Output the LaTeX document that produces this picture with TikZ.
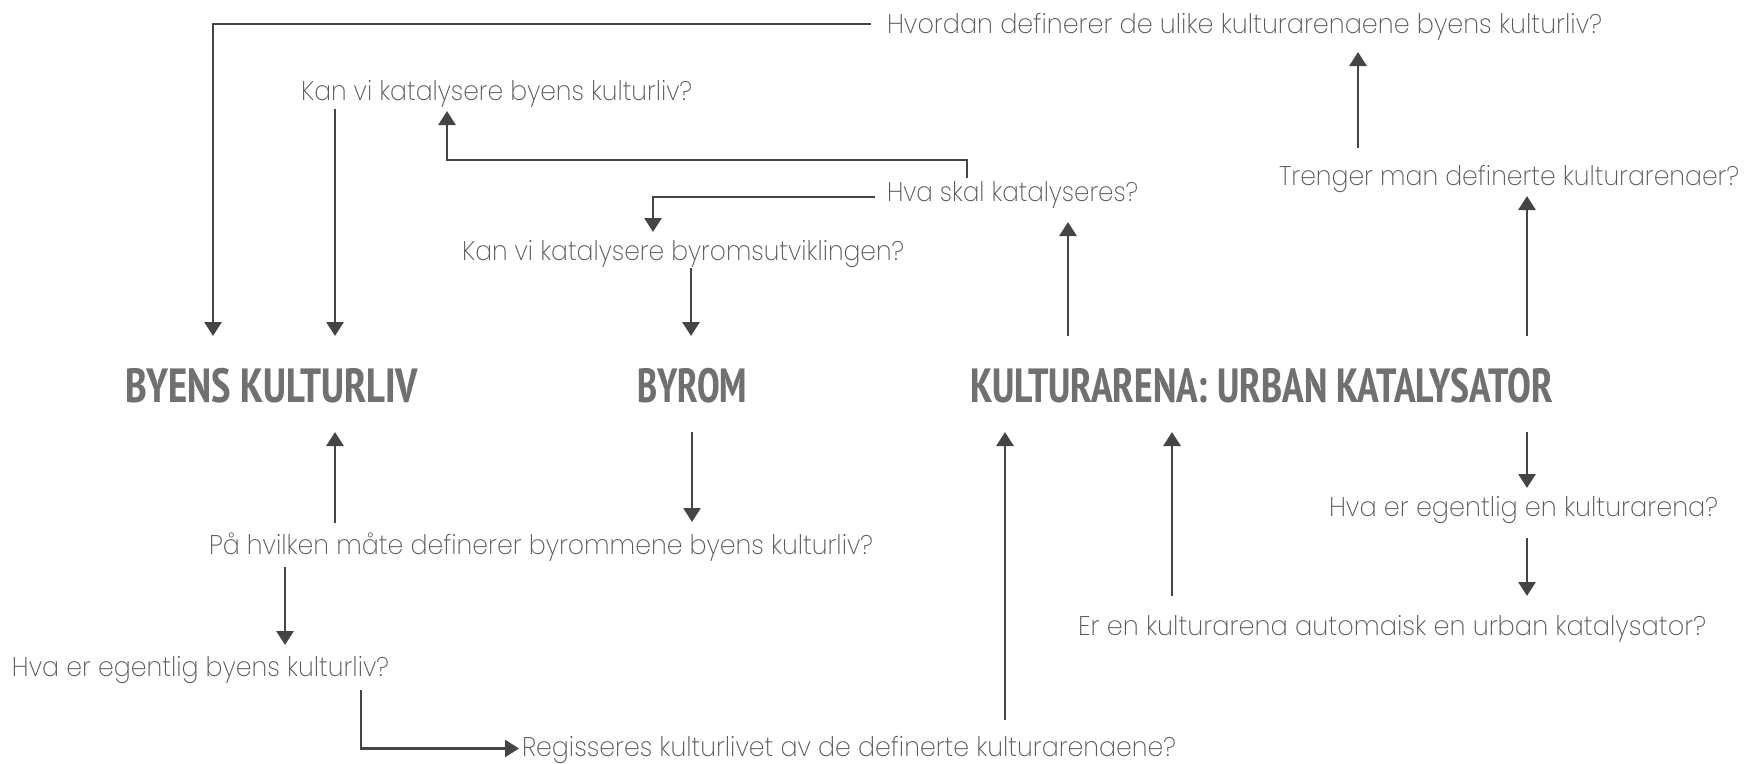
\documentclass[tikz,border=0pt]{standalone}
\usepackage{fontspec}
\usepackage{graphicx}
\usetikzlibrary{arrows.meta}
\IfFontExistsTF{Poppins ExtraLight}{\newfontfamily\qfont{Poppins ExtraLight}}{%
  \IfFontExistsTF{Poppins Light}{\newfontfamily\qfont{Poppins Light}}{%
    \IfFontExistsTF{Lato Light}{\newfontfamily\qfont{Lato Light}}{\newfontfamily\qfont{Poppins}}}}
\IfFontExistsTF{PT Sans Narrow Bold}{\newfontfamily\tfont{PT Sans Narrow Bold}}{\newfontfamily\tfont{DejaVu Sans Condensed Bold}}
\definecolor{linec}{HTML}{454545}
\definecolor{qcol}{HTML}{5A5A5A}
\definecolor{tcol}{HTML}{707070}
\newcommand{\fitw}[2]{\resizebox{#1pt}{\height}{#2}}
\tikzset{
  qn/.style={inner sep=0pt, outer sep=0pt, anchor=base west, text=qcol,
    font=\qfont\fontsize{27pt}{30pt}\selectfont, text height=19pt, text depth=0pt},
  tn/.style={inner sep=0pt, outer sep=0pt, anchor=base west, text=tcol,
    font=\tfont\fontsize{48pt}{50pt}\selectfont, text height=34pt, text depth=0pt},
  arr/.style={draw=linec, line width=2.8pt, -{Triangle[width=17pt,length=14pt]}}
}
\begin{document}
\begin{tikzpicture}[x=1pt,y=-1pt]
\useasboundingbox (0,0) rectangle (1745,763);
% questions
\node[qn] (q1) at (887,33.5) {\fitw{715}{Hvordan definerer de ulike kulturarenaene byens kulturliv?}};
\node[qn] (q2) at (301,100.5) {\fitw{391}{Kan vi katalysere byens kulturliv?}};
\node[qn] (q3) at (1279,185) {\fitw{460}{Trenger man definerte kulturarenaer?}};
\node[qn] (q4) at (887,201.5) {\fitw{251}{Hva skal katalyseres?}};
\node[qn] (q5) at (462,260.5) {\fitw{442}{Kan vi katalysere byromsutviklingen?}};
\node[qn] (q9) at (1329,516.5) {\fitw{389}{Hva er egentlig en kulturarena?}};
\node[qn] (q10) at (209,554.5) {\fitw{664}{På hvilken måte definerer byrommene byens kulturliv?}};
\node[qn] (q11) at (1078,635.5) {\fitw{628}{Er en kulturarena automaisk en urban katalysator?}};
\node[qn] (q12) at (12,676.5) {\fitw{377}{Hva er egentlig byens kulturliv?}};
\node[qn] (q13) at (522,756.5) {\fitw{654}{Regisseres kulturlivet av de definerte kulturarenaene?}};
% titles
\node[tn] (t1) at (125,402) {\fitw{293}{BYENS KULTURLIV}};
\node[tn] (t2) at (637,402) {\fitw{110}{BYROM}};
\node[tn] (t3) at (970,402) {\fitw{583}{KULTURARENA: URBAN KATALYSATOR}};
% helper coordinates
\coordinate (t1up) at ([yshift=32pt]t1.north);
\coordinate (t2up) at ([yshift=32pt]t2.north);
\coordinate (t3up) at ([yshift=32pt]t3.north);
\coordinate (t1dn) at ([yshift=-30pt]t1.south);
\coordinate (t2dn) at ([yshift=-30pt]t2.south);
\coordinate (t3dn) at ([yshift=-30pt]t3.south);
\coordinate (q4b) at ([yshift=-20.5pt]q4.south);
\coordinate (q3b) at ([yshift=-11pt]q3.south);
\coordinate (q1b) at ([yshift=-18.5pt]q1.south);
\coordinate (q10t) at ([yshift=13.5pt]q10.north);
\coordinate (q9t) at ([yshift=9.5pt]q9.north);
\coordinate (q11t) at ([yshift=20.5pt]q11.north);
\coordinate (q12t) at ([yshift=12.5pt]q12.north);
% connectors
\draw[arr] ([xshift=-16pt]q1.west) -| ([xshift=88pt]t1.west |- t1up);
\draw[arr] ([xshift=34pt,yshift=-8.5pt]q2.south west) coordinate (b0) -- (b0 |- t1up);
\draw[arr] ([xshift=80pt,yshift=4.5pt]q4.north west) -- ++(0,-18) -| ([xshift=146pt,yshift=-10.5pt]q2.south west);
\draw[arr] ([xshift=-12pt,yshift=-5pt]q4.west) -| ([xshift=191pt,yshift=9.5pt]q5.north west);
\draw[arr] ([xshift=229pt,yshift=-7.5pt]q5.south west) coordinate (e0) -- (e0 |- t2up);
\draw[arr] ([xshift=98pt]t3.west |- t3up) coordinate (f0) -- (f0 |- q4b);
\draw[arr] ([xshift=557pt]t3.west |- t3up) coordinate (g0) -- (g0 |- q3b);
\draw[arr] ([xshift=79pt,yshift=18.5pt]q3.north west) coordinate (h0) -- (h0 |- q1b);
\draw[arr] (t2dn) -- (t2dn |- q10t);
\draw[arr] ([xshift=126pt,yshift=12.5pt]q10.north west) coordinate (j0) -- (j0 |- t1dn);
\draw[arr] ([xshift=76pt,yshift=-12.5pt]q10.south west) coordinate (k0) -- (k0 |- q12t);
\draw[arr] ([xshift=349pt,yshift=-13.5pt]q12.south west) |- ([xshift=-3pt,yshift=-1.5pt]q13.west);
\draw[arr] ([xshift=483pt,yshift=17.5pt]q13.north west) coordinate (m0) -- (m0 |- t3dn);
\draw[arr] ([xshift=94pt,yshift=20.5pt]q11.north west) coordinate (n0) -- (n0 |- t3dn);
\draw[arr] ([xshift=557pt]t3.west |- t3dn) coordinate (o0) -- (o0 |- q9t);
\draw[arr] ([xshift=198pt,yshift=-21.5pt]q9.south west) coordinate (p0) -- (p0 |- q11t);
\end{tikzpicture}
\end{document}
